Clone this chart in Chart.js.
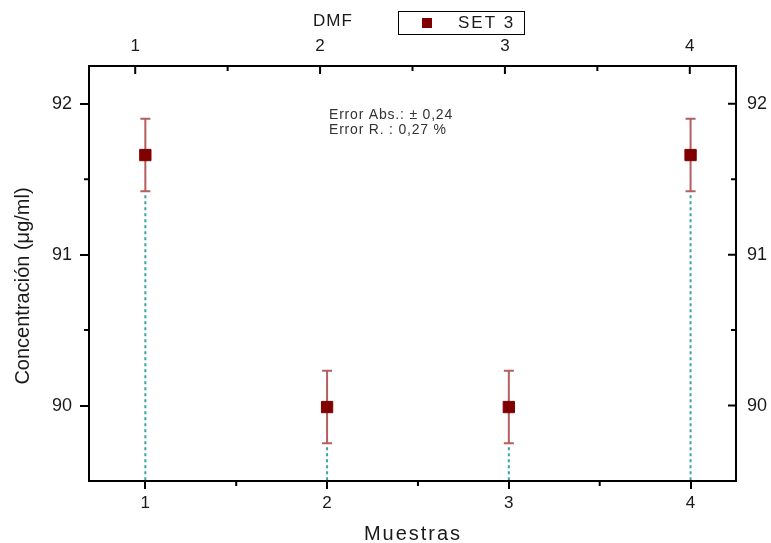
<!DOCTYPE html>
<html>
<head>
    <meta charset="UTF-8">
    <title>SET 3 - DMF</title>
    <script src="https://cdn.jsdelivr.net/npm/chart.js"></script>
    <style>
        body { margin: 0; background: #fff; }
    </style>
</head>
<body>
    <canvas id="setChart" width="771" height="543"></canvas>
    <script>
        // data
        var muestras = [1, 2, 3, 4];
        var concentracion = [91.66, 89.99, 89.99, 91.66];
        var errores = [0.24, 0.24, 0.24, 0.24];
        var xTicks = [1, 2, 3, 4];
        var xMinor = [1.5, 2.5, 3.5];
        var yTicks = [90, 91, 92];
        var yMinor = [90.5, 91.5];

        var fontFam = 'Arial, "Liberation Sans", sans-serif';
        var ink = '#1a1a1a';

        function fixTicks(list) {
            return function (s) { s.ticks = list.map(function (v) { return { value: v }; }); };
        }

        // error bars + teal drop lines under the markers
        var errorBars = {
            id: 'errorBars',
            beforeDatasetsDraw: function (chart) {
                var ctx = chart.ctx, xs = chart.scales.x, ys = chart.scales.y;
                var bottom = chart.chartArea.bottom;
                ctx.save();
                for (var i = 0; i < muestras.length; i++) {
                    var px = xs.getPixelForValue(muestras[i]);
                    var lo = ys.getPixelForValue(concentracion[i] - errores[i]);
                    var hi = ys.getPixelForValue(concentracion[i] + errores[i]);
                    ctx.strokeStyle = '#3aa3a3';
                    ctx.lineWidth = 2;
                    ctx.setLineDash([3, 3]);
                    ctx.beginPath();
                    ctx.moveTo(px, lo + 4);
                    ctx.lineTo(px, bottom);
                    ctx.stroke();
                    ctx.setLineDash([]);
                    ctx.strokeStyle = 'rgba(160,50,50,0.78)';
                    ctx.lineWidth = 2;
                    ctx.beginPath();
                    ctx.moveTo(px, hi); ctx.lineTo(px, lo);
                    ctx.moveTo(px - 5, hi); ctx.lineTo(px + 5, hi);
                    ctx.moveTo(px - 5, lo); ctx.lineTo(px + 5, lo);
                    ctx.stroke();
                }
                ctx.restore();
            }
        };

        // frame, inward/minor ticks, titles, legend, notes
        var frame = {
            id: 'frame',
            afterDraw: function (chart) {
                var ctx = chart.ctx, a = chart.chartArea, sc = chart.scales;
                ctx.save();
                ctx.strokeStyle = '#000';
                ctx.lineWidth = 2;
                ctx.strokeRect(a.left, a.top, a.right - a.left, a.bottom - a.top);
                ctx.beginPath();
                xMinor.forEach(function (v) {
                    var p = sc.x.getPixelForValue(v);
                    ctx.moveTo(p, a.bottom); ctx.lineTo(p, a.bottom + 5);
                    var q = sc.x2.getPixelForValue(v);
                    ctx.moveTo(q, a.top); ctx.lineTo(q, a.top + 5);
                });
                xTicks.forEach(function (v) {
                    var q = sc.x2.getPixelForValue(v);
                    ctx.moveTo(q, a.top); ctx.lineTo(q, a.top + 8);
                });
                yMinor.forEach(function (v) {
                    var p = sc.y.getPixelForValue(v);
                    ctx.moveTo(a.left, p); ctx.lineTo(a.left - 5, p);
                    ctx.moveTo(a.right, p); ctx.lineTo(a.right - 5, p);
                });
                yTicks.forEach(function (v) {
                    var p = sc.y2.getPixelForValue(v);
                    ctx.moveTo(a.right, p); ctx.lineTo(a.right - 8, p);
                });
                ctx.stroke();

                ctx.fillStyle = ink;
                ctx.textBaseline = 'middle';
                ctx.textAlign = 'center';

                // axis titles
                ctx.font = '20px ' + fontFam;
                ctx.letterSpacing = '2px';
                ctx.fillText('Muestras', 413, 534);
                ctx.letterSpacing = '0px';
                ctx.save();
                ctx.translate(23, 286);
                ctx.rotate(-Math.PI / 2);
                ctx.fillText('Concentración (μg/ml)', 0, 0);
                ctx.restore();

                // top title and legend box
                ctx.font = '17px ' + fontFam;
                ctx.letterSpacing = '1px';
                ctx.fillText('DMF', 333, 21);
                ctx.lineWidth = 1;
                ctx.strokeStyle = '#000';
                ctx.strokeRect(398.5, 11.5, 126, 23);
                ctx.fillStyle = '#800000';
                ctx.fillRect(422, 18, 10, 10);
                ctx.fillStyle = ink;
                ctx.textAlign = 'left';
                ctx.letterSpacing = '2px';
                ctx.fillText('SET 3', 458, 23);

                ctx.font = '14px ' + fontFam;
                ctx.letterSpacing = '0.8px';
                ctx.fillStyle = '#333';
                ctx.fillText('Error Abs.: \u00b1 0,24', 329, 115);
                ctx.fillText('Error R. : 0,27 %', 329, 130);
                ctx.restore();
            }
        };

        var ctx = document.getElementById('setChart').getContext('2d');
        var setChart = new Chart(ctx, {
            type: 'scatter',
            data: {
                datasets: [{
                    label: 'SET 3',
                    data: muestras.map(function (m, i) { return { x: m, y: concentracion[i] }; }),
                    pointStyle: 'rect',
                    pointRadius: 8,
                    pointHoverRadius: 8,
                    backgroundColor: '#800000',
                    borderColor: '#800000',
                    borderWidth: 1,
                    showLine: false
                }]
            },
            options: {
                responsive: false,
                animation: false,
                devicePixelRatio: 1,
                layout: { padding: 0 },
                plugins: { legend: { display: false }, tooltip: { enabled: false } },
                scales: {
                    x: {
                        type: 'linear', position: 'bottom', min: 0.69, max: 4.25,
                        afterBuildTicks: fixTicks(xTicks),
                        afterFit: function (s) { s.height = 62; },
                        border: { display: false },
                        grid: { drawOnChartArea: false, tickLength: 8, color: '#000', lineWidth: 2 },
                        ticks: { color: ink, font: { family: fontFam, size: 17 }, padding: 4 }
                    },
                    x2: {
                        type: 'linear', position: 'top', min: 0.75, max: 4.25,
                        afterBuildTicks: fixTicks(xTicks),
                        afterFit: function (s) { s.height = 66; },
                        border: { display: false },
                        grid: { drawOnChartArea: false, drawTicks: false },
                        ticks: { color: ink, font: { family: fontFam, size: 17 }, padding: 9 }
                    },
                    y: {
                        type: 'linear', position: 'left', min: 89.5, max: 92.25,
                        afterBuildTicks: fixTicks(yTicks),
                        afterFit: function (s) { s.width = 89; },
                        border: { display: false },
                        grid: { drawOnChartArea: false, tickLength: 9, color: '#000', lineWidth: 2 },
                        ticks: { color: ink, font: { family: fontFam, size: 18 }, padding: 8 }
                    },
                    y2: {
                        type: 'linear', position: 'right', min: 89.5, max: 92.25,
                        afterBuildTicks: fixTicks(yTicks),
                        afterFit: function (s) { s.width = 35; },
                        border: { display: false },
                        grid: { drawOnChartArea: false, drawTicks: false },
                        ticks: { color: ink, font: { family: fontFam, size: 18 }, padding: 11 }
                    }
                }
            },
            plugins: [errorBars, frame]
        });
    </script>
</body>
</html>
